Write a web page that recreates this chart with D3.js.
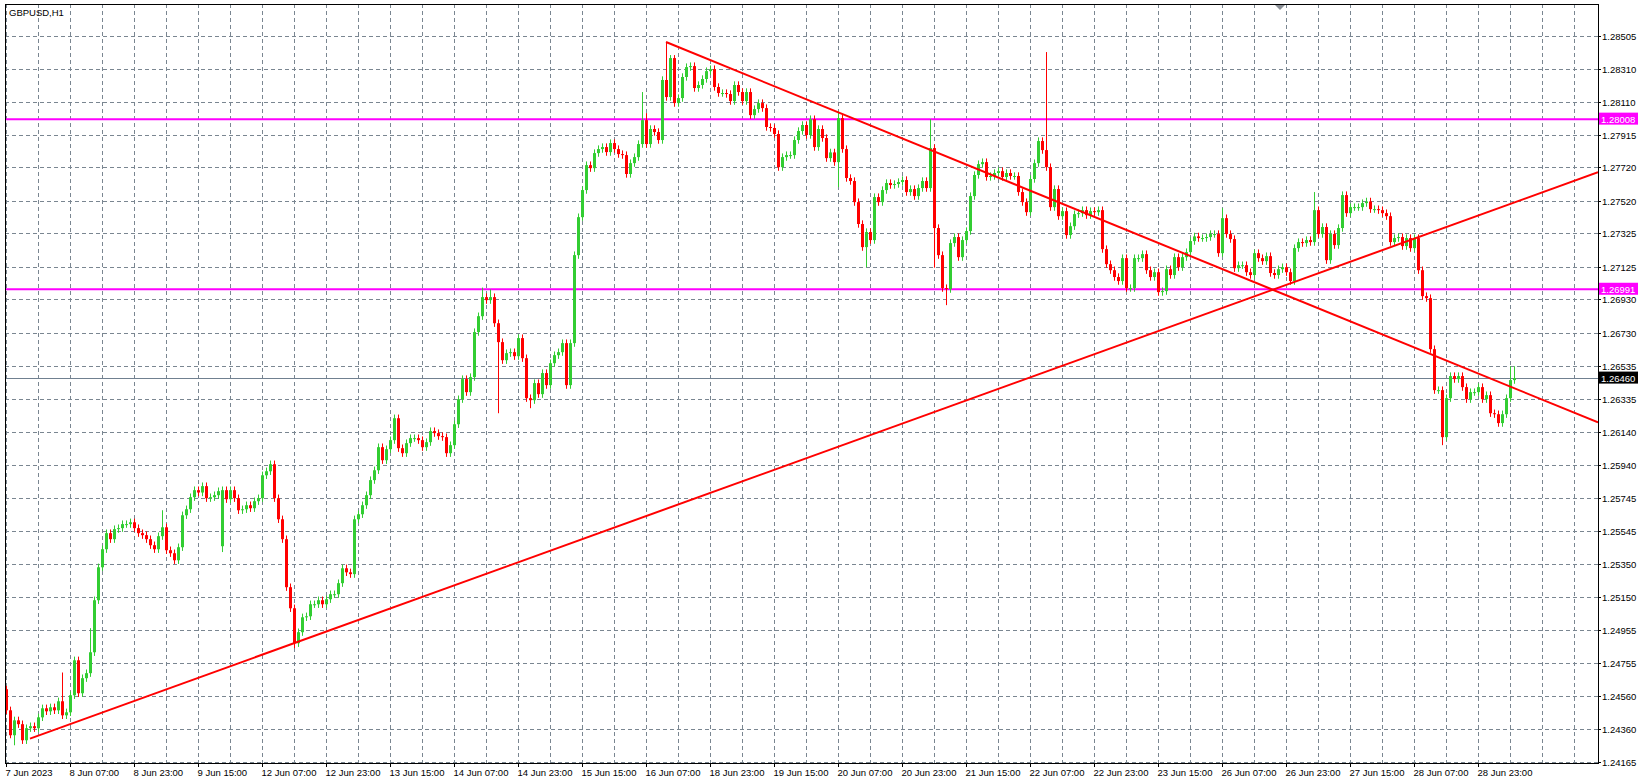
<!DOCTYPE html>
<html><head><meta charset="utf-8">
<script src="https://cdn.jsdelivr.net/npm/d3@7"></script>
<style>body{margin:0;background:#fff;}svg{display:block;}</style>
</head><body>
<svg id="c" width="1640" height="783"></svg>
<script>
// hourly closes, GBPUSD H1, from 7 Jun 2023 15:00
const closes = [
1.24474,1.24325,1.24414,1.24391,1.24295,1.24367,1.24379,1.24367,1.24432,1.24486,1.24468,1.24492,1.24474,1.24528,1.24444,1.24462,
1.24564,1.24773,1.24576,1.24666,1.24696,1.24821,1.25132,1.25329,1.25437,1.25533,1.25497,1.25557,1.25563,1.25587,1.25587,1.25598,
1.25563,1.25533,1.25521,1.25497,1.25461,1.25437,1.25515,1.25568,1.25431,1.25413,1.25371,1.25449,1.25640,1.25676,1.25748,1.25790,
1.25776,1.25814,1.25742,1.25748,1.25760,1.25784,1.25790,1.25736,1.25790,1.25742,1.25670,1.25676,1.25700,1.25682,1.25724,1.25742,
1.25879,1.25903,1.25945,1.25742,1.25616,1.25497,1.25210,1.25084,1.24875,1.24941,1.25030,1.25036,1.25108,1.25108,1.25132,1.25108,
1.25138,1.25168,1.25168,1.25234,1.25323,1.25299,1.25288,1.25616,1.25646,1.25700,1.25760,1.25850,1.25909,1.26047,1.25969,1.26035,
1.26089,1.26220,1.26041,1.26011,1.26071,1.26101,1.26101,1.26089,1.26047,1.26077,1.26143,1.26131,1.26113,1.26107,1.26011,1.26059,
1.26184,1.26334,1.26454,1.26376,1.26466,1.26735,1.26830,1.26944,1.26926,1.26944,1.26788,1.26675,1.26567,1.26609,1.26615,1.26591,
1.26699,1.26579,1.26340,1.26328,1.26430,1.26364,1.26490,1.26418,1.26549,1.26597,1.26615,1.26669,1.26418,1.26669,1.27195,1.27422,
1.27584,1.27733,1.27715,1.27805,1.27829,1.27841,1.27811,1.27865,1.27829,1.27799,1.27793,1.27680,1.27745,1.27781,1.27859,1.28002,
1.27859,1.27949,1.27931,1.27883,1.28242,1.28140,1.28373,1.28104,1.28134,1.28260,1.28319,1.28325,1.28194,1.28212,1.28248,1.28295,
1.28307,1.28200,1.28164,1.28164,1.28158,1.28116,1.28212,1.28170,1.28116,1.28170,1.28032,1.28068,1.28104,1.28074,1.27961,1.27955,
1.27919,1.27721,1.27781,1.27793,1.27793,1.27883,1.27937,1.27973,1.27913,1.28008,1.27841,1.27949,1.27895,1.27775,1.27809,1.27751,
1.28014,1.27829,1.27656,1.27638,1.27512,1.27381,1.27243,1.27333,1.27285,1.27542,1.27512,1.27584,1.27626,1.27614,1.27620,1.27632,
1.27644,1.27572,1.27590,1.27548,1.27596,1.27638,1.27596,1.27835,1.27357,1.27195,1.26998,1.26992,1.27267,1.27303,1.27183,1.27285,
1.27339,1.27548,1.27674,1.27739,1.27751,1.27662,1.27668,1.27686,1.27697,1.27662,1.27686,1.27668,1.27668,1.27572,1.27512,1.27452,
1.27650,1.27745,1.27877,1.27823,1.27721,1.27482,1.27590,1.27428,1.27458,1.27315,1.27368,1.27440,1.27446,1.27464,1.27434,1.27458,
1.27452,1.27464,1.27231,1.27141,1.27105,1.27064,1.27040,1.27177,1.26998,1.26998,1.27177,1.27177,1.27201,1.27105,1.27064,1.27093,
1.26974,1.26980,1.27111,1.27076,1.27183,1.27123,1.27183,1.27213,1.27279,1.27307,1.27297,1.27297,1.27303,1.27321,1.27321,1.27207,
1.27416,1.27321,1.27291,1.27117,1.27135,1.27135,1.27093,1.27076,1.27207,1.27177,1.27159,1.27189,1.27088,1.27076,1.27111,1.27123,
1.27093,1.27040,1.27237,1.27273,1.27267,1.27285,1.27273,1.27464,1.27321,1.27363,1.27165,1.27321,1.27255,1.27357,1.27554,1.27446,
1.27482,1.27482,1.27482,1.27506,1.27516,1.27470,1.27470,1.27464,1.27446,1.27428,1.27273,1.27297,1.27303,1.27249,1.27297,1.27237,
1.27297,1.27105,1.26950,1.26938,1.26633,1.26388,1.26388,1.26107,1.26340,1.26472,1.26454,1.26472,1.26406,1.26334,1.26376,1.26376,
1.26406,1.26334,1.26358,1.26250,1.26244,1.26191,1.26244,1.26340,1.26448,1.26460
];
const firstOpen = 1.24600;
const openOverrides = [[54, 1.25455]];
// notable wick extremes [index, high, low]
const wickHighs = [[0,1.24620],[14,1.24700],[21,1.24965],[39,1.25670],[119,1.27001],[121,1.26990],[159,1.28170],[160,1.28044],[165,1.28469],[166,1.28391],[167,1.28391],[208,1.28056],[231,1.28008],[260,1.28409],[304,1.27476],[327,1.27572],[376,1.26531],[377,1.26531]];
const wickLows = [[1,1.24307],[2,1.24265],[54,1.25420],[72,1.24845],[123,1.26250],[131,1.26280],[208,1.27602],[215,1.27123],[232,1.27120],[235,1.26896],[359,1.26059]];
const priceTicks = [1.28505,1.28310,1.28110,1.27915,1.27720,1.27520,1.27325,1.27125,1.26930,1.26730,1.26535,1.26335,1.26140,1.25940,1.25745,1.25545,1.25350,1.25150,1.24955,1.24755,1.24560,1.24360,1.24165];
const timeLabels = ["7 Jun 2023","8 Jun 07:00","8 Jun 23:00","9 Jun 15:00","12 Jun 07:00","12 Jun 23:00","13 Jun 15:00","14 Jun 07:00","14 Jun 23:00","15 Jun 15:00","16 Jun 07:00","18 Jun 23:00","19 Jun 15:00","20 Jun 07:00","20 Jun 23:00","21 Jun 15:00","22 Jun 07:00","22 Jun 23:00","23 Jun 15:00","26 Jun 07:00","26 Jun 23:00","27 Jun 15:00","28 Jun 07:00","28 Jun 23:00"];
const levels = [1.28008, 1.26991];
const currentPrice = 1.26460;
const supportLine = [[6, 1.24305],[72, 1.24875]];
const resistLine = [[165, 1.28469],[394, 1.26234]];
const symbol = "GBPUSD,H1";

const L=5, R=1598, T=4, B=763;
const svg = d3.select("#c");
const x = d3.scaleLinear().domain([-0.25, 398]).range([L, R]);
const y = d3.scaleLinear().domain([1.24165, 1.28505]).range([762, 36]);

const hiMap = new Map(wickHighs), loMap = new Map(wickLows), opMap = new Map(openOverrides);
const candles = closes.map((c,i)=>{
  const o = opMap.has(i) ? opMap.get(i) : (i===0 ? firstOpen : closes[i-1]);
  const h = hiMap.has(i) ? hiMap.get(i) : Math.max(o,c)+0.00022;
  const l = loMap.has(i) ? loMap.get(i) : Math.min(o,c)-0.00022;
  return {i,o,c,h,l};
});

svg.append("defs").append("clipPath").attr("id","pc").append("rect")
  .attr("x",L).attr("y",T).attr("width",R-L).attr("height",B-T);

// grid
const grid = svg.append("g").attr("stroke","#7a8691").attr("stroke-dasharray","4,3").attr("stroke-width",1);
priceTicks.forEach(p=>{ const yy=Math.round(y(p))+0.5;
  grid.append("line").attr("x1",L).attr("x2",R).attr("y1",yy).attr("y2",yy); });
d3.range(0, 398, 8).forEach(k=>{ const xx=Math.round(x(k))+0.5;
  grid.append("line").attr("x1",xx).attr("x2",xx).attr("y1",T).attr("y2",B); });

const plot = svg.append("g").attr("clip-path","url(#pc)");
plot.append("line").attr("x1",L).attr("x2",R).attr("y1",Math.round(y(currentPrice))+0.5).attr("y2",Math.round(y(currentPrice))+0.5)
  .attr("stroke","#708090").attr("stroke-width",1);
levels.forEach(p=>plot.append("line").attr("x1",L).attr("x2",R).attr("y1",y(p)).attr("y2",y(p))
  .attr("stroke","#ff00ff").attr("stroke-width",2));

const cg = plot.append("g");
candles.forEach(d=>{
  const col = d.c>=d.o ? "#32cd32" : "#ff0000";
  const xx = Math.round(x(d.i));
  cg.append("line").attr("x1",xx+0.5).attr("x2",xx+0.5).attr("y1",y(d.h)).attr("y2",y(d.l)).attr("stroke",col).attr("stroke-width",1);
  const top=y(Math.max(d.o,d.c)), bot=y(Math.min(d.o,d.c));
  cg.append("rect").attr("x",xx-1).attr("width",3).attr("y",top).attr("height",Math.max(1,bot-top)).attr("fill",col);
});

function ray(pts){
  const [a,b]=pts; const s=(b[1]-a[1])/(b[0]-a[0]); const xe=398;
  plot.append("line").attr("x1",x(a[0])).attr("y1",y(a[1])).attr("x2",x(xe)).attr("y2",y(a[1]+s*(xe-a[0])))
    .attr("stroke","#ff0000").attr("stroke-width",2);
}
ray(supportLine); ray(resistLine);

svg.append("rect").attr("x",L+0.5).attr("y",T+0.5).attr("width",R-L).attr("height",B-T)
  .attr("fill","none").attr("stroke","#000").attr("stroke-width",1);

const fnt = "Liberation Sans, Arial, sans-serif";
const fs = 9.5;
priceTicks.forEach(p=>{ const yy=Math.round(y(p))+0.5;
  svg.append("line").attr("x1",R).attr("x2",R+3).attr("y1",yy).attr("y2",yy).attr("stroke","#000");
  svg.append("text").attr("x",R+4).attr("y",yy+3.5).attr("font-family",fnt).attr("font-size",fs).attr("fill","#000").text(p.toFixed(5));
});
function tag(p,bg){ const yy=y(p);
  svg.append("rect").attr("x",R+1).attr("y",yy-6.5).attr("width",39).attr("height",12).attr("fill",bg);
  svg.append("text").attr("x",R+3).attr("y",yy+3.5).attr("font-family",fnt).attr("font-size",fs).attr("fill","#fff").text(p.toFixed(5));
}
levels.forEach(p=>tag(p,"#ff00ff"));
tag(currentPrice,"#000");

timeLabels.forEach((t,j)=>{ const xx=Math.round(x(j*16))+0.5;
  svg.append("line").attr("x1",xx).attr("x2",xx).attr("y1",B).attr("y2",B+4).attr("stroke","#000");
  svg.append("text").attr("x",xx-1).attr("y",B+13).attr("font-family",fnt).attr("font-size",fs).attr("fill","#000").text(t);
});

svg.append("text").attr("x",9).attr("y",16).attr("font-family",fnt).attr("font-size",fs).attr("fill","#000").text(symbol);
svg.append("path").attr("d","M1275,5 L1285,5 L1280,10 Z").attr("fill","#8a8f96");
</script>
</body></html>
